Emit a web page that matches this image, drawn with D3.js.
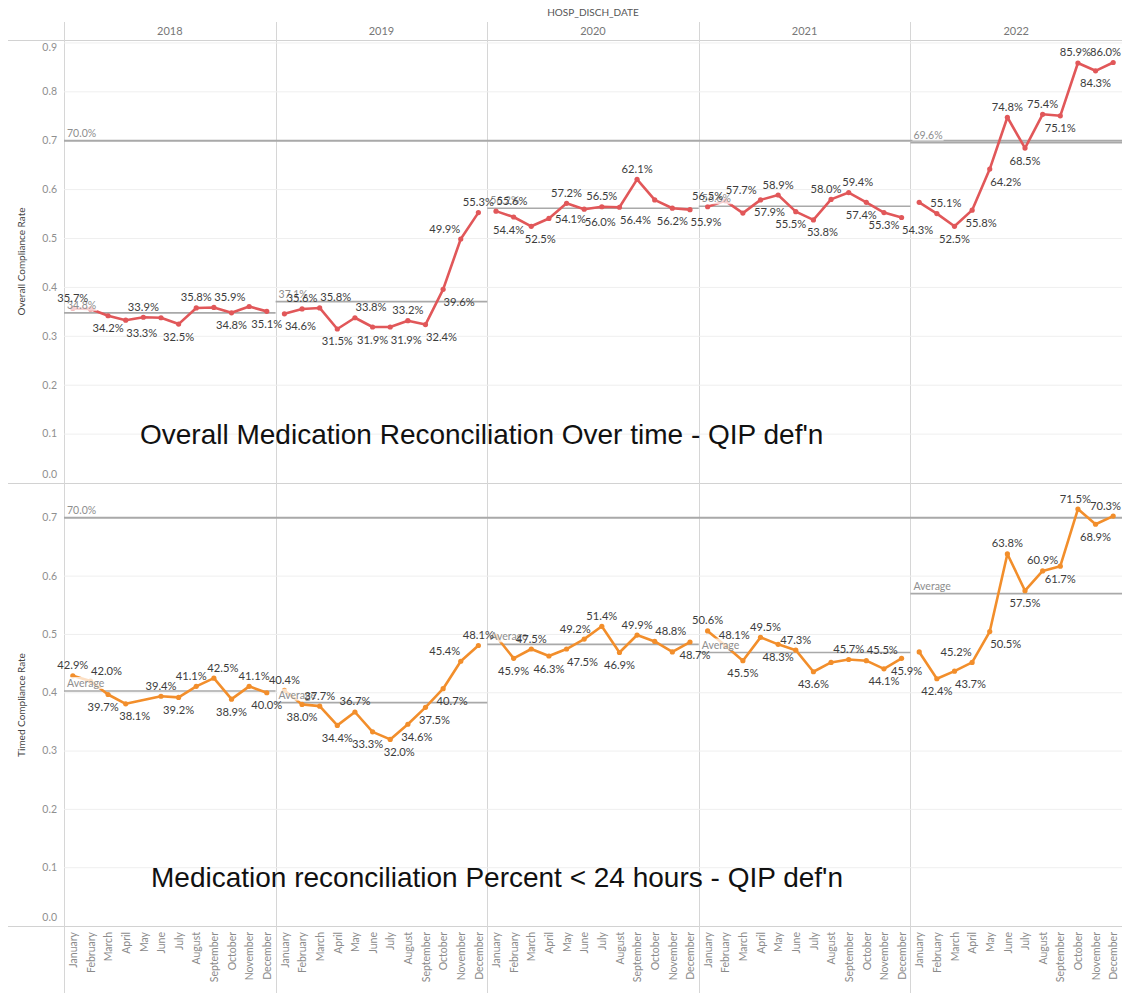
<!DOCTYPE html>
<html>
<head>
<meta charset="utf-8">
<script src="https://cdn.jsdelivr.net/npm/d3@7"></script>
<style>
  body { margin: 0; background: #fff; }
  svg text { font-family: Lato, "Noto Sans", sans-serif; }
  svg text.note { font-family: "Liberation Sans", Arial, sans-serif; }
</style>
</head>
<body>
<svg id="chart" width="1122" height="993"></svg>
<script>
// values
const years = ["2018", "2019", "2020", "2021", "2022"];
const months = ["January", "February", "March", "April", "May", "June", "July",
  "August", "September", "October", "November", "December"];

const overall2018 = [0.357, 0.356, 0.342, 0.333, 0.339, 0.338, 0.325, 0.358, 0.359, 0.348, 0.361, 0.351];
const overall2019 = [0.346, 0.356, 0.358, 0.315, 0.338, 0.319, 0.319, 0.332, 0.324, 0.396, 0.499, 0.553];
const overall2020 = [0.556, 0.544, 0.525, 0.541, 0.572, 0.560, 0.565, 0.564, 0.621, 0.579, 0.562, 0.559];
const overall2021 = [0.565, 0.577, 0.552, 0.579, 0.589, 0.555, 0.538, 0.580, 0.594, 0.574, 0.553, 0.543];
const overall2022 = [0.574, 0.551, 0.525, 0.558, 0.642, 0.748, 0.685, 0.754, 0.751, 0.859, 0.843, 0.860];

const timed2018 = [0.429, 0.420, 0.397, 0.381, null, 0.394, 0.392, 0.411, 0.425, 0.389, 0.411, 0.400];
const timed2019 = [0.404, 0.380, 0.377, 0.344, 0.367, 0.333, 0.320, 0.346, 0.375, 0.407, 0.454, 0.481];
const timed2020 = [0.497, 0.459, 0.475, 0.463, 0.475, 0.492, 0.514, 0.469, 0.499, 0.488, 0.470, 0.487];
const timed2021 = [0.506, 0.481, 0.455, 0.495, 0.483, 0.473, 0.436, 0.452, 0.457, 0.455, 0.441, 0.459];
const timed2022 = [0.470, 0.424, 0.437, 0.452, 0.505, 0.638, 0.575, 0.609, 0.617, 0.715, 0.689, 0.703];

const overallAvg = [0.348, 0.371, 0.562, 0.566, 0.696];
const timedAvg = [0.403, 0.383, 0.483, 0.469, 0.570];
const target = 0.70;

// marks whose value label Tableau left out
const overallUnlabelled = ["2018 February", "2018 June", "2018 November", "2020 October", "2021 March", "2022 January"];
const timedUnlabelled = ["2020 January", "2020 November", "2021 August", "2022 January"];

const overallTicks = [0, 0.1, 0.2, 0.3, 0.4, 0.5, 0.6, 0.7, 0.8, 0.9];
const timedTicks = [0, 0.1, 0.2, 0.3, 0.4, 0.5, 0.6, 0.7];

const W = 1122, H = 993;
const left = 64, right = 1122;
const pct = d3.format(".1%");

const svg = d3.select("#chart");
const col = d3.scaleBand().domain(years).range([left, right]);

const rows = [
  {
    title: "Overall Compliance Rate",
    data: [overall2018, overall2019, overall2020, overall2021, overall2022],
    avg: overallAvg, avgText: d => pct(d), ticks: overallTicks, hidden: overallUnlabelled,
    top: 40, bottom: 483, max: 0.906, color: "#e15759",
    note: "Overall Medication Reconciliation Over time - QIP def'n", noteX: 140, noteY: 444
  },
  {
    title: "Timed Compliance Rate",
    data: [timed2018, timed2019, timed2020, timed2021, timed2022],
    avg: timedAvg, avgText: () => "Average", ticks: timedTicks, hidden: timedUnlabelled,
    top: 484, bottom: 926, max: 0.758, color: "#f28e2b",
    note: "Medication reconciliation Percent < 24 hours - QIP def'n", noteX: 151, noteY: 887
  }
];

// header
svg.append("text").attr("x", (left + right) / 2).attr("y", 16)
  .attr("text-anchor", "middle").attr("font-size", 10).attr("fill", "#555")
  .text("HOSP_DISCH_DATE");
svg.selectAll(".yr").data(years).join("text")
  .attr("x", d => col(d) + col.bandwidth() / 2).attr("y", 35)
  .attr("text-anchor", "middle").attr("font-size", 11).attr("fill", "#777")
  .text(d => d);

// table frame
svg.selectAll(".hline").data([40.5, 483.5, 926.5]).join("line")
  .attr("x1", 8).attr("x2", W).attr("y1", d => d).attr("y2", d => d)
  .attr("stroke", "#d2d2d2").attr("stroke-width", 1.2);
svg.selectAll(".vline").data(years).join("line")
  .attr("x1", d => Math.round(col(d)) + 0.5).attr("x2", d => Math.round(col(d)) + 0.5)
  .attr("y1", 22).attr("y2", H)
  .attr("stroke", "#d6d6d6").attr("stroke-width", 1);

const overlap = (a, b) => a.x0 < b.x1 && b.x0 < a.x1 && a.y0 < b.y1 && b.y0 < a.y1;

rows.forEach(row => {
  const y = d3.scaleLinear().domain([0, row.max]).range([row.bottom, row.top]);
  const g = svg.append("g");

  // gridlines
  g.selectAll(".grid").data(row.ticks.filter(t => t > 0)).join("line")
    .attr("x1", left).attr("x2", right)
    .attr("y1", d => y(d)).attr("y2", d => y(d))
    .attr("stroke", "#efefef").attr("stroke-width", 1);

  // y axis
  const ax = g.append("g").attr("transform", `translate(60,0)`)
    .call(d3.axisLeft(y).tickValues(row.ticks).tickSize(0).tickPadding(3).tickFormat(d3.format(".1f")));
  ax.select(".domain").remove();
  ax.selectAll("text").attr("font-size", 10.5).attr("fill", "#8f8f8f");
  ax.selectAll(".tick").attr("transform", d => {
    const yy = Math.max(row.top + 8, Math.min(row.bottom - 8, y(d)));
    return `translate(0,${yy})`;
  });

  g.append("text")
    .attr("transform", `translate(25,${(row.top + row.bottom) / 2}) rotate(-90)`)
    .attr("text-anchor", "middle").attr("font-size", 10).attr("fill", "#444")
    .text(row.title);

  // target line across the whole row
  g.append("line").attr("x1", left).attr("x2", right)
    .attr("y1", y(target)).attr("y2", y(target))
    .attr("stroke", "#a9a9a9").attr("stroke-width", 2);

  const lineLayer = g.append("g");
  const refLayer = g.append("g");
  const labelLayer = g.append("g");

  const obstacles = [];
  const panels = years.map((yr, yi) => {
    const x = d3.scalePoint().domain(months).range([col(yr), col(yr) + col.bandwidth()]).padding(0.5);
    const pts = months.map((m, i) => ({ m, v: row.data[yi][i], yr }))
      .filter(d => d.v != null)
      .map(d => ({ ...d, px: x(d.m), py: y(d.v) }));

    lineLayer.append("line")
      .attr("x1", col(yr)).attr("x2", col(yr) + col.bandwidth())
      .attr("y1", y(row.avg[yi])).attr("y2", y(row.avg[yi]))
      .attr("stroke", "#a9a9a9").attr("stroke-width", 1.6);

    lineLayer.append("path").datum(pts)
      .attr("fill", "none").attr("stroke", row.color).attr("stroke-width", 2.6)
      .attr("stroke-linejoin", "round")
      .attr("d", d3.line().x(d => d.px).y(d => d.py));
    lineLayer.selectAll(null).data(pts).join("circle")
      .attr("cx", d => d.px).attr("cy", d => d.py).attr("r", 2.6)
      .attr("fill", row.color);

    // the marks themselves are obstacles for labels
    pts.forEach((p, i) => {
      obstacles.push({ x0: p.px - 2, x1: p.px + 2, y0: p.py - 2, y1: p.py + 2 });
      const q = pts[i + 1];
      if (!q) return;
      const n = Math.ceil(Math.hypot(q.px - p.px, q.py - p.py) / 2);
      for (let k = 1; k < n; k++) {
        const sx = p.px + (q.px - p.px) * k / n, sy = p.py + (q.py - p.py) * k / n;
        obstacles.push({ x0: sx - 1, x1: sx + 1, y0: sy - 1, y1: sy + 1 });
      }
    });

    // reference labels (white wash over the marks like Tableau does)
    const refs = [{ t: row.avgText(row.avg[yi]), v: row.avg[yi] }];
    if (yi === 0) refs.push({ t: pct(target), v: target });
    refs.forEach(r => {
      const rg = refLayer.append("g");
      const tx = rg.append("text").attr("x", col(yr) + 3).attr("y", y(r.v) - 4)
        .attr("font-size", 10.5).attr("fill", "#8e8e8e").text(r.t);
      const bb = tx.node().getBBox();
      rg.insert("rect", "text").attr("x", bb.x - 1).attr("y", bb.y)
        .attr("width", bb.width + 2).attr("height", bb.height)
        .attr("fill", "#fff").attr("fill-opacity", 0.72);
    });

    // month axis under the last row
    if (row === rows[1]) {
      const mx = svg.append("g").attr("transform", `translate(0,${row.bottom})`)
        .call(d3.axisBottom(x).tickSize(0));
      mx.select(".domain").remove();
      mx.selectAll("text")
        .attr("transform", "rotate(-90)").attr("x", -6).attr("y", 0).attr("dy", "0.35em")
        .style("text-anchor", "end").attr("font-size", 10.5).attr("fill", "#8a8a8a");
    }
    return pts;
  });

  // data labels: side picked from the local shape and nudged sideways first,
  // other side after that; they avoid the line, the marks and each other
  const labels = [];
  panels.forEach(pts => pts.forEach((p, i) => {
    if (row.hidden.includes(`${p.yr} ${p.m}`)) return;
    const nb = [pts[i - 1], pts[i + 1]].filter(Boolean).map(d => d.v);
    const up = p.v >= d3.mean(nb);
    const t = labelLayer.append("text").attr("font-size", 11.2).attr("fill", "#3c3c3c")
      .attr("text-anchor", "middle").attr("dominant-baseline", "central").text(pct(p.v));
    const w = t.node().getComputedTextLength();
    const P = up ? p.py - 11 : p.py + 12, O = up ? p.py + 12 : p.py - 11;
    const cands = [];
    [P, O].forEach(cy => [0, -5, 5, -9, 9, -16, 16].forEach(s => cands.push([s, cy])));
    cands.push([w / 2 + 6, p.py], [-w / 2 - 6, p.py]);
    const boxOf = ([s, cy]) => {
      const cx = Math.max(w / 2 + 1, Math.min(W - w / 2 - 1, p.px + s));
      return { cx, cy, x0: cx - w / 2 + 1, x1: cx + w / 2 - 1, y0: cy - 5, y1: cy + 5 };
    };
    let ok = cands.map(boxOf).find(b => !obstacles.some(o => overlap(o, b)) && !labels.some(l => overlap(l, b)));
    if (!ok) {
      ok = boxOf(cands[0]);
      // push earlier labels aside to make room
      labels.filter(l => overlap(l, ok)).forEach(l => {
        const d = l.cx < ok.cx ? -(l.x1 - ok.x0 + 1) : (ok.x1 - l.x0 + 1);
        l.cx += d; l.x0 += d; l.x1 += d;
        l.el.attr("x", l.cx);
      });
    }
    ok.el = t;
    labels.push(ok);
    t.attr("x", ok.cx).attr("y", ok.cy);
  }));

  g.append("text").attr("class", "note").attr("x", row.noteX).attr("y", row.noteY)
    .attr("font-size", 28).attr("fill", "#111")
    .text(row.note);
});
</script>
</body>
</html>
